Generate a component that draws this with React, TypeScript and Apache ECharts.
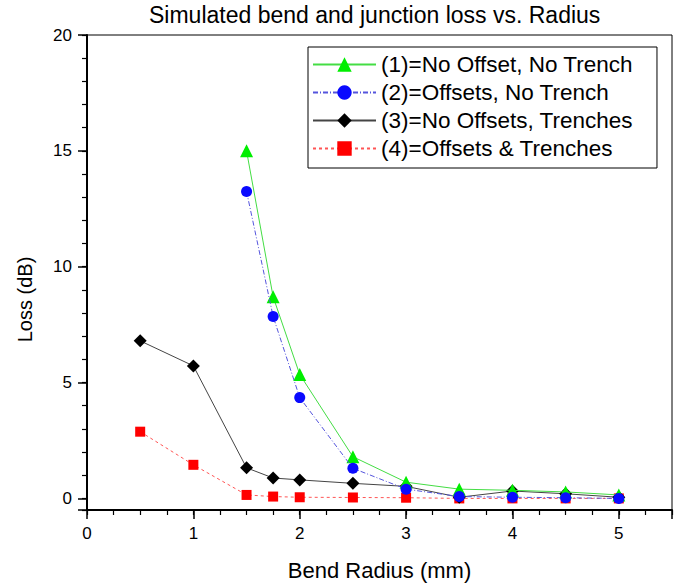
import React, { useEffect, useRef } from "react";
import * as echarts from "echarts";

const titleText = "Simulated bend and junction loss vs. Radius";
const xName = "Bend Radius (mm)";
const yName = "Loss (dB)";

const seriesNames = [
  "(1)=No Offset, No Trench",
  "(2)=Offsets, No Trench",
  "(3)=No Offsets, Trenches",
  "(4)=Offsets & Trenches",
];

const radiusA = [1.5, 1.75, 2, 2.5, 3, 3.5, 4, 4.5, 5];
const radiusB = [0.5, 1, 1.5, 1.75, 2, 2.5, 3, 3.5, 4, 4.5, 5];

const loss1 = [15.0, 8.7, 5.35, 1.8, 0.7, 0.4, 0.35, 0.28, 0.15];
const loss2 = [13.25, 7.85, 4.35, 1.3, 0.4, 0.08, 0.05, 0.03, 0.0];
const loss3 = [6.8, 5.72, 1.32, 0.88, 0.8, 0.65, 0.52, 0.05, 0.32, 0.2, 0.05];
const loss4 = [2.88, 1.45, 0.15, 0.08, 0.05, 0.04, 0.03, 0.0, 0.0, 0.0, 0.0];

const xLabels = [0, 1, 2, 3, 4, 5];
const yLabels = [0, 5, 10, 15, 20];

const FONT = "Liberation Sans, Arial, Helvetica, sans-serif";

function pairs(xs: number[], ys: number[]) {
  return xs.map((x, i) => [x, ys[i]]);
}

export default function App() {
  const ref = useRef<HTMLDivElement>(null);

  useEffect(() => {
    if (!ref.current) return;
    const chart = echarts.init(ref.current, undefined, { renderer: "svg" });
    const axisColor = "#000";
    chart.setOption({
      animation: false,
      backgroundColor: "#fff",
      textStyle: { fontFamily: FONT },
      title: {
        text: titleText,
        left: 149,
        top: 3,
        padding: 0,
        textStyle: { fontFamily: FONT, fontSize: 23, fontWeight: "normal", color: "#000" },
      },
      grid: {
        left: 87,
        top: 35,
        width: 585,
        height: 477,
        show: true,
        borderColor: "#000",
        borderWidth: 1,
        backgroundColor: "transparent",
        z: 0,
      },
      legend: {
        orient: "vertical",
        left: 308,
        top: 47,
        padding: [6, 24, 8, 4],
        itemGap: 5,
        itemWidth: 63,
        itemHeight: 18,
        borderColor: "#000",
        borderWidth: 1,
        backgroundColor: "#fff",
        selectedMode: false,
        textStyle: { fontFamily: FONT, fontSize: 22.5, color: "#000", lineHeight: 22 },
        data: seriesNames,
      },
      xAxis: [
        {
          type: "value",
          min: 0,
          max: 5.5,
          interval: 1,
          position: "bottom",
          name: xName,
          nameLocation: "middle",
          nameGap: 49,
          nameTextStyle: { fontFamily: FONT, fontSize: 22, color: "#000" },
          axisLine: { show: true, onZero: false, lineStyle: { color: axisColor, width: 2 } },
          axisTick: { show: true, length: 9, lineStyle: { color: axisColor, width: 1.5 } },
          axisLabel: { customValues: xLabels, margin: 15, fontSize: 17, color: "#000", fontFamily: FONT },
          splitLine: { show: false },
          z: 10,
        },
        {
          type: "value",
          min: 0,
          max: 5.5,
          interval: 0.25,
          position: "bottom",
          axisLine: { show: false, onZero: false },
          axisTick: { show: true, length: 5, lineStyle: { color: axisColor, width: 1.2 } },
          axisLabel: { show: false },
          splitLine: { show: false },
          z: 10,
        },
      ],
      yAxis: [
        {
          type: "value",
          min: -0.5,
          max: 20,
          splitNumber: 4,
          minInterval: 5,
          maxInterval: 5,
          position: "left",
          name: yName,
          nameLocation: "middle",
          nameGap: 52,
          nameTextStyle: { fontFamily: FONT, fontSize: 20, color: "#000", padding: [0, 54, 0, 0] },
          axisLine: { show: true, onZero: false, lineStyle: { color: axisColor, width: 2 } },
          axisTick: { show: true, length: 9, lineStyle: { color: axisColor, width: 1.5 } },
          axisLabel: { customValues: yLabels, margin: 15, fontSize: 17, color: "#000", fontFamily: FONT },
          splitLine: { show: false },
          z: 10,
        },
        {
          type: "value",
          min: -0.5,
          max: 20,
          splitNumber: 20,
          minInterval: 1,
          maxInterval: 1,
          position: "left",
          axisLine: { show: false, onZero: false },
          axisTick: { show: true, length: 5, lineStyle: { color: axisColor, width: 1.2 } },
          axisLabel: { show: false },
          splitLine: { show: false },
          z: 10,
        },
      ],
      series: [
        {
          name: seriesNames[0],
          type: "line",
          data: pairs(radiusA, loss1),
          symbol: "triangle",
          symbolSize: 13,
          z: 4,
          itemStyle: { color: "#00ee00" },
          lineStyle: { color: "#44dd44", width: 1, type: "solid" },
          emphasis: { disabled: true },
          silent: true,
        },
        {
          name: seriesNames[1],
          type: "line",
          data: pairs(radiusA, loss2),
          symbol: "circle",
          symbolSize: 11,
          z: 5,
          itemStyle: { color: "#0a0aff" },
          lineStyle: { color: "#5555dd", width: 1, type: [5, 2, 1, 2] },
          emphasis: { disabled: true },
          silent: true,
        },
        {
          name: seriesNames[2],
          type: "line",
          data: pairs(radiusB, loss3),
          symbol: "diamond",
          symbolSize: 13,
          z: 3,
          itemStyle: { color: "#000" },
          lineStyle: { color: "#444", width: 1, type: "solid" },
          emphasis: { disabled: true },
          silent: true,
        },
        {
          name: seriesNames[3],
          type: "line",
          data: pairs(radiusB, loss4),
          symbol: "rect",
          symbolSize: 10,
          z: 2,
          itemStyle: { color: "#ff0000" },
          lineStyle: { color: "#ff5555", width: 1, type: [3, 3] },
          emphasis: { disabled: true },
          silent: true,
        },
      ],
    });
    return () => {
      chart.dispose();
    };
  }, []);

  return (
    <div
      ref={ref}
      style={{ position: "absolute", left: 0, top: 0, width: 674, height: 586 }}
    />
  );
}
